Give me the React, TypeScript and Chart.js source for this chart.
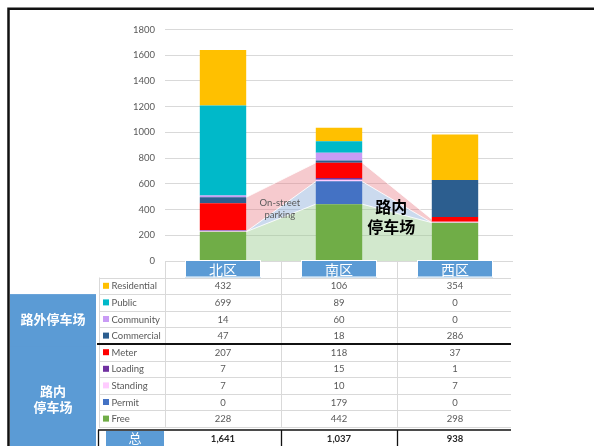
import React, { useEffect, useRef } from 'react';
import { Chart, registerables } from 'chart.js';

Chart.register(...registerables);

// ---------------- data ----------------
const categories = ['北区', '南区', '西区'];

// table order (top to bottom)
const seriesNames = ['Residential', 'Public', 'Community', 'Commercial', 'Meter', 'Loading', 'Standing', 'Permit', 'Free'];
const residential = [432, 106, 354];
const publicLots = [699, 89, 0];
const community = [14, 60, 0];
const commercial = [47, 18, 286];
const meter = [207, 118, 37];
const loading = [7, 15, 1];
const standing = [7, 10, 7];
const permit = [0, 179, 0];
const free = [228, 442, 298];
const totals = [1641, 1037, 938];

const seriesValues = [residential, publicLots, community, commercial, meter, loading, standing, permit, free];
const seriesColors = ['#ffc000', '#00b9c9', '#c99bf5', '#2c5e8f', '#ff0000', '#7030a0', '#ffccff', '#4472c4', '#70ad47'];

// hand-drawn on-street band outline
const bandFreeTop = [228, 442, 298];
const bandPermitTop = [228, 618, 298];
const bandStreetTop = [495, 764, 325];

const yMin = 0;
const yMax = 1800;
const yStep = 200;

const offStreetLabel = '路外停车场';
const onStreetLabel = ['路内', '停车场'];
const totalLabel = '总';
const onStreetNote = ['On-street', 'parking'];
const onStreetTitle = ['路内', '停车场'];

// ---------------- derived ----------------
const bandLevels = [categories.map(() => 0), bandFreeTop, bandPermitTop, bandStreetTop];
const bandColors = ['rgba(155,203,145,0.45)', 'rgba(125,163,212,0.4)', 'rgba(232,122,132,0.4)'];

const GRAY = '#595959';
const LATIN = 'Lato, "Noto Sans", sans-serif';
const CJK = '"Noto Sans CJK SC", sans-serif';

const bandPlugin = {
  id: 'bands',
  beforeDatasetsDraw(chart: any) {
    const ctx = chart.ctx as CanvasRenderingContext2D;
    const y = chart.scales.y;
    const els = chart.getDatasetMeta(0).data;
    const xsPts: number[] = [];
    const idx: number[] = [];
    for (let i = 0; i < els.length - 1; i++) {
      xsPts.push(els[i].x + els[i].width / 2, els[i + 1].x - els[i + 1].width / 2);
      idx.push(i, i + 1);
    }
    const area = chart.chartArea;
    ctx.save();
    ctx.beginPath();
    ctx.rect(area.left, area.top, area.right - area.left, area.bottom - area.top);
    ctx.clip();
    for (let b = 0; b < 3; b++) {
      const lo = bandLevels[b];
      const hi = bandLevels[b + 1];
      ctx.beginPath();
      xsPts.forEach((px, j) => {
        const py = y.getPixelForValue(hi[idx[j]]);
        if (j === 0) ctx.moveTo(px, py);
        else ctx.lineTo(px, py);
      });
      for (let j = xsPts.length - 1; j >= 0; j--) {
        ctx.lineTo(xsPts[j], y.getPixelForValue(lo[idx[j]]));
      }
      ctx.closePath();
      ctx.fillStyle = bandColors[b];
      ctx.fill();
    }
    ctx.strokeStyle = 'rgba(255,255,255,0.85)';
    ctx.lineWidth = 1;
    for (let b = 1; b < 4; b++) {
      ctx.beginPath();
      xsPts.forEach((px, j) => {
        const py = y.getPixelForValue(bandLevels[b][idx[j]]);
        if (j === 0) ctx.moveTo(px, py);
        else ctx.lineTo(px, py);
      });
      ctx.stroke();
    }
    ctx.restore();
  },
  afterDatasetsDraw(chart: any) {
    const ctx = chart.ctx as CanvasRenderingContext2D;
    const x = chart.scales.x;
    const y = chart.scales.y;
    ctx.save();
    ctx.fillStyle = GRAY;
    ctx.font = `9.5px ${LATIN}`;
    ctx.textAlign = 'center';
    ctx.textBaseline = 'middle';
    ctx.fillText(onStreetNote[0], x.getPixelForValue(0.49), y.getPixelForValue(455));
    ctx.fillText(onStreetNote[1], x.getPixelForValue(0.49), y.getPixelForValue(360));
    ctx.fillStyle = '#000';
    ctx.font = `bold 16px ${CJK}`;
    ctx.fillText(onStreetTitle[0], x.getPixelForValue(1.45), y.getPixelForValue(424));
    ctx.fillText(onStreetTitle[1], x.getPixelForValue(1.45), y.getPixelForValue(264));
    ctx.restore();
  },
};

const tablePlugin = {
  id: 'dataTable',
  afterDraw(chart: any) {
    const ctx = chart.ctx as CanvasRenderingContext2D;
    const xs = chart.scales.x;
    const area = chart.chartArea;
    const H = chart.height;
    const n = categories.length;
    const colW = (area.right - area.left) / n;
    const centers = categories.map((_, i) => xs.getPixelForValue(i));
    const L = 99;
    const R = area.right - 2;
    const top0 = area.bottom + 16.5;
    const rh = 16.6;
    const tableBottom = top0 + 9 * rh;
    const totalTop = 430;

    ctx.save();
    ctx.strokeStyle = '#d9d9d9';
    ctx.lineWidth = 1;
    ctx.beginPath();
    for (let k = 0; k <= 9; k++) {
      if (k === 4) continue;
      const yy = Math.round(top0 + k * rh) + 0.5;
      ctx.moveTo(L, yy);
      ctx.lineTo(R, yy);
    }
    ctx.moveTo(L + 0.5, top0);
    ctx.lineTo(L + 0.5, tableBottom);
    for (let i = 0; i < n; i++) {
      const xx = Math.round(area.left + colW * i) + 0.5;
      ctx.moveTo(xx, area.bottom);
      ctx.lineTo(xx, tableBottom);
    }
    ctx.stroke();

    ctx.strokeStyle = '#111';
    ctx.lineWidth = 2;
    ctx.beginPath();
    ctx.moveTo(97, top0 + 4 * rh);
    ctx.lineTo(R, top0 + 4 * rh);
    ctx.stroke();

    ctx.lineWidth = 1.3;
    ctx.beginPath();
    ctx.moveTo(98, totalTop);
    ctx.lineTo(R, totalTop);
    ctx.moveTo(98.5, totalTop);
    ctx.lineTo(98.5, H);
    for (let i = 1; i < n; i++) {
      const xx = Math.round(area.left + colW * i) + 0.5;
      ctx.moveTo(xx, totalTop);
      ctx.lineTo(xx, H);
    }
    ctx.stroke();

    ctx.textBaseline = 'middle';
    for (let k = 0; k < seriesNames.length; k++) {
      const cy = top0 + (k + 0.5) * rh;
      ctx.fillStyle = seriesColors[k];
      ctx.fillRect(103, cy - 3, 6, 6);
      ctx.fillStyle = GRAY;
      ctx.font = `9.5px ${LATIN}`;
      ctx.textAlign = 'left';
      ctx.fillText(seriesNames[k], 111.5, cy + 0.5);
      ctx.textAlign = 'center';
      for (let i = 0; i < n; i++) {
        ctx.fillText(String(seriesValues[k][i]), centers[i], cy + 0.5);
      }
    }
    ctx.fillStyle = '#262626';
    ctx.font = `bold 9.5px ${LATIN}`;
    ctx.textAlign = 'center';
    for (let i = 0; i < n; i++) {
      ctx.fillText(totals[i].toLocaleString('en-US'), centers[i], 438.5);
    }

    const BLUE = '#5b9bd5';
    ctx.strokeStyle = '#fff';
    ctx.lineWidth = 1;
    for (let i = 0; i < n; i++) {
      const bx = Math.round(centers[i] - 38);
      ctx.fillStyle = BLUE;
      ctx.fillRect(bx, area.bottom - 1, 76, top0 - area.bottom + 1);
      ctx.strokeRect(bx + 0.5, area.bottom - 0.5, 75, top0 - area.bottom);
      ctx.fillStyle = '#fff';
      ctx.font = `14px ${CJK}`;
      ctx.textAlign = 'center';
      ctx.fillText(categories[i], centers[i], area.bottom + 8.5);
    }
    ctx.fillStyle = BLUE;
    ctx.fillRect(10, top0 + rh, 86, 3 * rh + 16);
    ctx.fillRect(10, top0 + 4 * rh + 2.5, 86, H - (top0 + 4 * rh + 2.5));
    ctx.fillStyle = '#fff';
    ctx.font = `bold 13px ${CJK}`;
    ctx.textAlign = 'center';
    ctx.fillText(offStreetLabel, 53, top0 + 2.5 * rh + 0.5);
    ctx.fillText(onStreetLabel[0], 53, 391);
    ctx.fillText(onStreetLabel[1], 53, 407.5);
    ctx.fillStyle = BLUE;
    ctx.fillRect(106, totalTop + 1, area.left - 107, H - totalTop - 1);
    ctx.fillStyle = '#fff';
    ctx.font = `13px ${CJK}`;
    ctx.fillText(totalLabel, (106 + area.left - 1) / 2, 438.5);

    ctx.strokeStyle = '#111';
    ctx.lineWidth = 2.5;
    ctx.beginPath();
    ctx.moveTo(8.5, H);
    ctx.lineTo(8.5, 8.7);
    ctx.lineTo(chart.width, 8.7);
    ctx.stroke();
    ctx.restore();
  },
};

export default function App() {
  const ref = useRef<HTMLCanvasElement | null>(null);
  useEffect(() => {
    if (!ref.current) return;
    const bars = seriesNames
      .map((name, k) => ({
        label: name,
        data: seriesValues[k],
        backgroundColor: seriesColors[k],
        borderWidth: 0,
      }))
      .reverse();
    const chart = new Chart(ref.current, {
      type: 'bar',
      data: { labels: categories, datasets: bars },
      options: {
        animation: false,
        responsive: false,
        devicePixelRatio: 1,
        categoryPercentage: 0.8,
        barPercentage: 0.5,
        layout: { padding: { left: 0, right: 81, top: 29.5, bottom: 185 } },
        plugins: { legend: { display: false }, tooltip: { enabled: false } },
        scales: {
          x: { display: false, stacked: true, offset: true },
          y: {
            stacked: true,
            min: yMin,
            max: yMax,
            ticks: {
              stepSize: yStep,
              padding: 10,
              color: GRAY,
              font: { family: LATIN, size: 9.5 },
              callback: (v: any) => String(v),
            },
            grid: { color: '#d9d9d9', drawTicks: false },
            border: { display: false },
            afterFit: (s: any) => {
              s.width = 165;
            },
          },
        },
      } as any,
      plugins: [bandPlugin, tablePlugin],
    });
    return () => chart.destroy();
  }, []);
  return (
    <div style={{ position: 'fixed', left: 0, top: 0, width: 594, height: 446, background: '#fff' }}>
      <canvas ref={ref} width={594} height={446} style={{ width: 594, height: 446, display: 'block' }} />
    </div>
  );
}
